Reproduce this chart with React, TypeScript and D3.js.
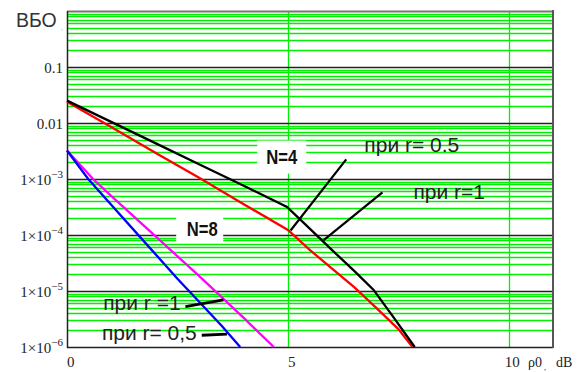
import React from "react";
import * as d3 from "d3";

// x: ρ0, dB ; y values stored as log10(BER)
const blackX = [0, 1, 2, 3, 4, 4.98, 5.5, 6, 6.5, 6.94, 7.4, 7.87];
const blackLog = [-1.6, -1.98, -2.36, -2.74, -3.12, -3.5, -3.89, -4.27, -4.64, -4.98, -5.48, -6];
const redX = [0, 1, 2, 3, 4, 5, 5.5, 6, 6.5, 7, 7.5, 7.82];
const redLog = [-1.62, -2.07, -2.53, -2.98, -3.45, -3.91, -4.27, -4.6, -4.93, -5.3, -5.68, -6];
const blueX = [0, 0.48, 1, 1.92, 2.5, 3, 3.5, 3.92];
const blueLog = [-2.49, -3.0, -3.46, -4.27, -4.78, -5.2, -5.62, -6];
const magX = [0, 0.59, 1, 2, 3, 4, 4.68];
const magLog = [-2.49, -3.0, -3.3, -4.02, -4.74, -5.48, -6];

const xTicks = [0, 5, 10];
const xTickLabels = ["0", "5", "10"];
const yDecades = [-6, -5, -4, -3, -2, -1, 0];
const yTickLabels = [
  { e: -1, text: "0.1" },
  { e: -2, text: "0.01" },
  { e: -3, text: "1×10", sup: "−3" },
  { e: -4, text: "1×10", sup: "−4" },
  { e: -5, text: "1×10", sup: "−5" },
  { e: -6, text: "1×10", sup: "−6" },
];

// annotations in data coordinates [x, log10]
const labelNames = ["N=4", "N=8"];
const labelPos = [
  [4.86, -2.6],
  [3.06, -3.89],
];
const rLabels = ["при r= 0.5", "при r=1", "при r =1", "при r= 0,5"];
const rLabelPos = [
  [6.73, -2.52],
  [7.84, -3.36],
  [0.82, -5.34],
  [0.79, -5.875],
];
const pointers = [
  [[6.32, -2.65], [5.06, -3.92]],
  [[7.14, -3.24], [5.81, -4.09]],
  [[2.68, -5.28], [3.54, -5.16]],
  [[3.05, -5.79], [3.62, -5.77]],
];

const W = 582;
const H = 372;
const L = 67, R = 553, T = 11, B = 347;

export default function App() {
  const x = d3.scaleLinear().domain([0, 11]).range([L, R]);
  const y = d3.scaleLog().domain([1e-6, 1]).range([B, T]);
  const yl = (e: number) => y(Math.pow(10, e));

  const mkLine = (xs: number[], ls: number[]) =>
    d3
      .line<number>()
      .x((_, i) => x(xs[i]))
      .y((_, i) => yl(ls[i]))(xs) as string;

  const minor: number[] = [];
  for (let k = -6; k < 0; k++) for (let m = 2; m <= 9; m++) minor.push(m * Math.pow(10, k));

  const green = "#00f000";
  const serif = "'Liberation Serif', 'Times New Roman', serif";
  const sans = "'Liberation Sans', Arial, sans-serif";

  return (
    <svg
      width={W}
      height={H}
      style={{ position: "absolute", left: 0, top: 0, background: "#fff" }}
    >
      <rect x={0} y={0} width={W} height={H} fill="#fff" />
      {/* minor green grid */}
      {minor.map((v, i) => (
        <line key={"m" + i} x1={L} x2={R} y1={Math.round(y(v)) + 0.5} y2={Math.round(y(v)) + 0.5} stroke={green} strokeWidth={1.3} />
      ))}
      {xTicks.filter((t) => t > 0).map((t) => (
        <line key={"v" + t} x1={Math.round(x(t)) + 0.5} x2={Math.round(x(t)) + 0.5} y1={T} y2={B} stroke={green} strokeWidth={1.3} />
      ))}
      {/* decade lines */}
      {yDecades.map((e) => (
        <line key={"d" + e} x1={L} x2={R} y1={Math.round(yl(e)) + 0.5} y2={Math.round(yl(e)) + 0.5} stroke={e === 0 ? "#777" : "#222"} strokeWidth={e === 0 ? 2 : 1.4} />
      ))}
      {/* label boxes */}
      <rect x={x(labelPos[0][0]) - 24.5} y={yl(labelPos[0][1]) - 16} width={49} height={33} fill="#fff" />
      <rect x={x(labelPos[1][0]) - 26} y={yl(labelPos[1][1]) - 13} width={47} height={27} fill="#fff" />
      {/* axes border */}
      <line x1={L + 0.5} x2={L + 0.5} y1={T} y2={B + 1} stroke="#222" strokeWidth={1.5} />
      <line x1={R} x2={R} y1={T - 1} y2={B + 1} stroke="#555" strokeWidth={2} />
      {/* curves */}
      <path d={mkLine(magX, magLog)} fill="none" stroke="#ff00ff" strokeWidth={2.3} />
      <path d={mkLine(blueX, blueLog)} fill="none" stroke="#0000ff" strokeWidth={2.3} />
      <path d={mkLine(redX, redLog)} fill="none" stroke="#ff0000" strokeWidth={2.3} />
      <path d={mkLine(blackX, blackLog)} fill="none" stroke="#000" strokeWidth={2.3} />
      {/* pointers */}
      {pointers.map((p, i) => (
        <line key={"p" + i} x1={x(p[0][0])} y1={yl(p[0][1])} x2={x(p[1][0])} y2={yl(p[1][1])} stroke="#000" strokeWidth={i < 2 ? 2.2 : 2.8} />
      ))}
      {/* labels */}
      {labelNames.map((t, i) => (
        <text key={t} x={x(labelPos[i][0])} y={yl(labelPos[i][1]) + 7} textAnchor="middle" fontFamily={sans} fontWeight="bold" fontSize={20} textLength={31} lengthAdjust="spacingAndGlyphs" fill="#111">
          {t}
        </text>
      ))}
      {rLabels.map((t, i) => (
        <text key={"r" + i} x={x(rLabelPos[i][0])} y={yl(rLabelPos[i][1])} fontFamily={sans} fontSize={21} fill="#222">
          {t}
        </text>
      ))}
      {/* y ticks */}
      <text x={16} y={27} fontFamily={sans} fontSize={19.5} fill="#333">ВБО</text>
      <text x={61} y={30} fontFamily={sans} fontSize={7} fill="#999">,</text>
      {yTickLabels.map((t) => (
        <text key={"y" + t.e} x={63} y={yl(t.e) + 6} textAnchor="end" fontFamily={serif} fontSize={15} fill="#222">
          {t.text}
          {t.sup ? (
            <tspan fontSize={11} dy={-7}>{t.sup}</tspan>
          ) : null}
        </text>
      ))}
      {/* x ticks */}
      {xTicks.map((t, i) => (
        <text key={"x" + t} x={x(t) - (t >= 10 ? 4 : 0)} y={367} fontFamily={serif} fontSize={15} fill="#222">
          {xTickLabels[i]}
        </text>
      ))}
      <text x={528} y={367} fontFamily={serif} fontSize={14} fill="#222">ρ0</text>
      <text x={544} y={370} fontFamily={serif} fontSize={8} fill="#222">,</text>
      <text x={556} y={367} fontFamily={serif} fontSize={14} fill="#222">dB</text>
    </svg>
  );
}
